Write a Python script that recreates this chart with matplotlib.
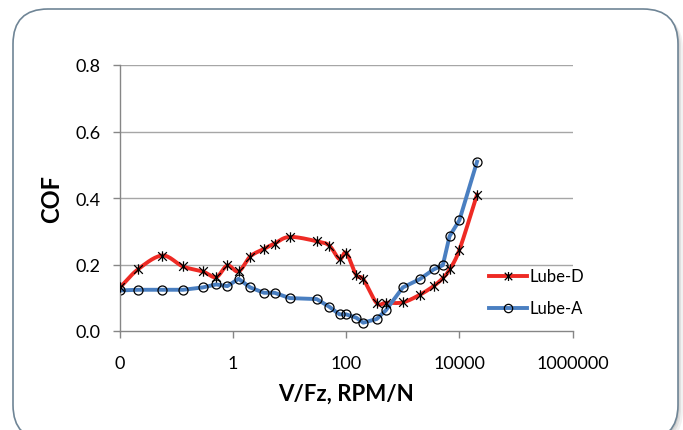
import matplotlib
matplotlib.use("Agg")
import matplotlib.pyplot as plt
import numpy as np
from matplotlib.patches import FancyBboxPatch
from matplotlib.path import Path
from matplotlib.transforms import IdentityTransform

# V/Fz values (RPM/N), shared by both lubricants
vfz = [0.01, 0.021, 0.056, 0.13, 0.29, 0.5, 0.79, 1.25, 2.0, 3.5, 5.4, 10,
       30, 50, 76, 100, 150, 200, 345, 500, 1000, 2000, 3500, 5100, 6700,
       10000, 20500]
lube_d = [0.131, 0.186, 0.227, 0.194, 0.179, 0.162, 0.197, 0.179, 0.224,
          0.247, 0.263, 0.283, 0.270, 0.257, 0.216, 0.235, 0.168, 0.156,
          0.084, 0.085, 0.086, 0.109, 0.135, 0.159, 0.185, 0.244, 0.410]
lube_a = [0.122, 0.124, 0.124, 0.124, 0.131, 0.140, 0.135, 0.157, 0.131,
          0.115, 0.115, 0.099, 0.096, 0.073, 0.050, 0.050, 0.040, 0.025,
          0.036, 0.062, 0.131, 0.156, 0.185, 0.198, 0.285, 0.333, 0.509]
series_names = ["Lube-D", "Lube-A"]
xtick_vals = [0.01, 1, 100, 10000, 1000000]
xtick_labels = ["0", "1", "100", "10000", "1000000"]
ytick_vals = [0.0, 0.2, 0.4, 0.6, 0.8]

plt.rcParams['font.family'] = ['Lato', 'DejaVu Sans']


def smooth(x, y, sx=56.56, sy=332.5, n=16):
    # catmull-rom through the points, like excel's smoothed line
    px = np.log10(np.array(x)) * sx
    py = np.array(y) * sy
    p = np.column_stack([px, py])
    p = np.vstack([2 * p[0] - p[1], p, 2 * p[-1] - p[-2]])
    out = []
    for i in range(1, len(p) - 2):
        p0, p1, p2, p3 = p[i - 1], p[i], p[i + 1], p[i + 2]
        for t in np.linspace(0, 1, n, endpoint=False):
            t2, t3 = t * t, t * t * t
            pt = 0.5 * ((2 * p1) + (-p0 + p2) * t +
                        (2 * p0 - 5 * p1 + 4 * p2 - p3) * t2 +
                        (-p0 + 3 * p1 - 3 * p2 + p3) * t3)
            out.append(pt)
    out.append(p[-2])
    out = np.array(out)
    return 10 ** (out[:, 0] / sx), out[:, 1] / sy


star = Path([(-1, -1), (1, 1), (-1, 1), (1, -1), (0, -1.2), (0, 1.2)],
            [Path.MOVETO, Path.LINETO, Path.MOVETO, Path.LINETO,
             Path.MOVETO, Path.LINETO])

fig = plt.figure(figsize=(6.83, 4.31), dpi=100)
fig.patch.set_facecolor("white")

# card shadow + card
for off, a in [(5, 0.10), (3, 0.15), (1.5, 0.2)]:
    sh = FancyBboxPatch((13 + off, -10 - off), 665, 431,
                        boxstyle="round,pad=0,rounding_size=35",
                        transform=IdentityTransform(), facecolor="#7f7f7f",
                        edgecolor="none", alpha=a, zorder=-3)
    fig.patches.append(sh)
card = FancyBboxPatch((13, -10), 665, 431,
                      boxstyle="round,pad=0,rounding_size=35",
                      transform=IdentityTransform(), facecolor="white",
                      edgecolor="#6f8596", linewidth=1.2, zorder=-2)
fig.patches.append(card)

ax = fig.add_axes([120 / 683, 99 / 431, 452.5 / 683, 266 / 431])
ax.patch.set_alpha(0)
ax.set_xscale("log")
ax.set_xlim(0.01, 1000000)
ax.set_ylim(0, 0.8)

for v in ytick_vals[1:]:
    ax.axhline(v, color="#a6a6a6", linewidth=1.0, zorder=0)

sx, sy = smooth(vfz, lube_d)
ax.plot(sx, sy, color="#ee2a24", linewidth=2.8, zorder=2)
ax.plot(vfz, lube_d, linestyle="none", marker=star, markersize=7.5,
        markeredgecolor="black", markeredgewidth=0.9, zorder=3)
ax.plot(vfz, lube_a, color="#4a7fc1", linewidth=2.8, marker="o",
        markersize=6.5, markerfacecolor="none", markeredgecolor="black",
        markeredgewidth=0.9, zorder=2)

# legend entries drawn by hand to match the excel layout
for name, yy, col, mk in [(series_names[0], 0.165, "#ee2a24", star),
                          (series_names[1], 0.068, "#4a7fc1", "o")]:
    ax.plot([0.01 * 10 ** ((489 - 120) / 56.56), 0.01 * 10 ** ((527 - 120) / 56.56)],
            [yy, yy], color=col, linewidth=2.8, clip_on=False, zorder=4)
    ax.plot([0.01 * 10 ** ((508 - 120) / 56.56)], [yy], linestyle="none",
            marker=mk, markersize=6.5 if mk is star else 6,
            markerfacecolor="none", markeredgecolor="black",
            markeredgewidth=0.9, clip_on=False, zorder=5)
    ax.text(0.01 * 10 ** ((529 - 120) / 56.56), yy, name, fontsize=12,
            va="center", ha="left", clip_on=False)

ax.xaxis.set_major_locator(matplotlib.ticker.FixedLocator(xtick_vals))
ax.xaxis.set_minor_locator(matplotlib.ticker.NullLocator())
ax.set_xticklabels(xtick_labels)
ax.set_yticks(ytick_vals)
ax.set_yticklabels(["%.1f" % v for v in ytick_vals])
ax.tick_params(axis="both", direction="out", length=5, width=1,
               color="#868686", labelsize=13)
ax.tick_params(axis="x", pad=12)
ax.tick_params(axis="y", pad=9)

for s in ["top", "right"]:
    ax.spines[s].set_visible(False)
for s in ["left", "bottom"]:
    ax.spines[s].set_color("#868686")
    ax.spines[s].set_linewidth(1.0)

ax.set_xlabel("V/Fz, RPM/N", fontsize=16, fontweight="bold", labelpad=9)
ax.set_ylabel("COF", fontsize=17, fontweight="bold", labelpad=9)

plt.savefig("out.png", dpi=100)
